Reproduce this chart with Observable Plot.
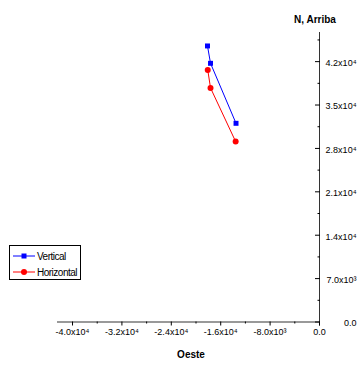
<!DOCTYPE html>
<html><head><meta charset="utf-8">
<script src="https://cdn.jsdelivr.net/npm/d3@7"></script>
<script src="https://cdn.jsdelivr.net/npm/@observablehq/plot@0.6"></script>
<style>
body{margin:0;background:#fff}
#c{position:relative;width:357px;height:371px}
#c svg text, #legend{font-family:"Liberation Sans Narrow","Arial Narrow","Liberation Sans",Arial,sans-serif}
#legend{position:absolute;left:9px;top:245px;width:70px;height:33px;border:1px solid #000;background:#fff;font-size:10px;letter-spacing:-0.5px}
#legend .row{position:absolute;left:3px;height:14px;display:flex;align-items:center}
#legend .row span{margin-left:2px}
</style></head><body><div id="c"></div>
<script>
const xTicks = [-40000, -32000, -24000, -16000, -8000, 0];
const xTickLabels = ["-4.0x10⁴", "-3.2x10⁴", "-2.4x10⁴", "-1.6x10⁴", "-8.0x10³", "0.0"];
const yTicks = [0, 7000, 14000, 21000, 28000, 35000, 42000];
const yTickLabels = ["0.0", "7.0x10³", "1.4x10⁴", "2.1x10⁴", "2.8x10⁴", "3.5x10⁴", "4.2x10⁴"];
const xMinor = [-36000, -28000, -20000, -12000, -4000];
const yMinor = [3500, 10500, 17500, 24500, 31500, 38500, 45500];
const seriesNames = ["Vertical", "Horizontal"];
const seriesColors = ["#0000ff", "#ff0000"];
const verticalX = [-18140, -17650, -13520];
const verticalY = [44530, 41730, 32050];
const horizontalX = [-18100, -17650, -13580];
const horizontalY = [40660, 37760, 29100];
const xLabel = "Oeste";
const yLabel = "N, Arriba";

const vertical = verticalX.map((x, i) => ({s: seriesNames[0], x, y: verticalY[i]}));
const horizontal = horizontalX.map((x, i) => ({s: seriesNames[1], x, y: horizontalY[i]}));
const data = vertical.concat(horizontal);

const chart = Plot.plot({
  width: 357, height: 371,
  marginLeft: 58, marginRight: 38, marginTop: 32, marginBottom: 49.5,
  x: {domain: [-42270, 0]},
  y: {domain: [0, 46700]},
  color: {domain: seriesNames, range: seriesColors},
  style: {fontSize: "9px", color: "#000", background: "#fff"},
  marks: [
    Plot.ruleY([0], {stroke: "#000", strokeOpacity: 0.8, insetLeft: -1}),
    Plot.ruleX([0], {stroke: "#000", strokeOpacity: 0.8, insetBottom: -4}),
    Plot.axisX(xTicks, {tickSize: 4, tickPadding: 3, tickFormat: d => xTickLabels[xTicks.indexOf(d)], label: null, letterSpacing: -0.4}),
    Plot.axisX(xMinor, {tickSize: 2, text: null, label: null}),
    Plot.axisY(yTicks, {anchor: "right", tickSize: 5, insetRight: 5, text: null, label: null}),
    Plot.axisY(yMinor, {anchor: "right", tickSize: 2.5, insetRight: 2.5, text: null, label: null}),
    Plot.axisY(yTicks, {anchor: "right", tickSize: 0, tickPadding: 37, textAnchor: "end", dy: 1.5, tickFormat: d => yTickLabels[yTicks.indexOf(d)], label: null, letterSpacing: -0.4}),
    Plot.line(data, {x: "x", y: "y", z: "s", stroke: "s", strokeWidth: 1}),
    Plot.dot(vertical, {x: "x", y: "y", symbol: "square", r: 2.8, fill: "s", stroke: null}),
    Plot.dot(horizontal, {x: "x", y: "y", symbol: "circle", r: 3, fill: "s", stroke: null}),
    Plot.text([xLabel], {frameAnchor: "bottom", dx: 2, dy: 36, fontWeight: "bold", fontSize: 10, letterSpacing: -0.5}),
    Plot.text([yLabel], {frameAnchor: "top-right", textAnchor: "middle", dx: -4.5, dy: -17, fontWeight: "bold", fontSize: 10, letterSpacing: -0.6})
  ]
});
document.getElementById("c").appendChild(chart);

const legend = document.createElement("div");
legend.id = "legend";
seriesNames.forEach((name, i) => {
  const row = document.createElement("div");
  row.className = "row";
  row.style.top = (3 + i * 16) + "px";
  const marker = i === 0
    ? `<rect x="8.5" y="2.5" width="5" height="5" fill="${seriesColors[i]}"/>`
    : `<circle cx="11" cy="5" r="3" fill="${seriesColors[i]}"/>`;
  row.innerHTML = `<svg width="22" height="10"><line x1="0" x2="22" y1="5" y2="5" stroke="${seriesColors[i]}" stroke-width="1"/>${marker}</svg><span>${name}</span>`;
  legend.appendChild(row);
});
document.getElementById("c").appendChild(legend);
</script>
</body></html>
